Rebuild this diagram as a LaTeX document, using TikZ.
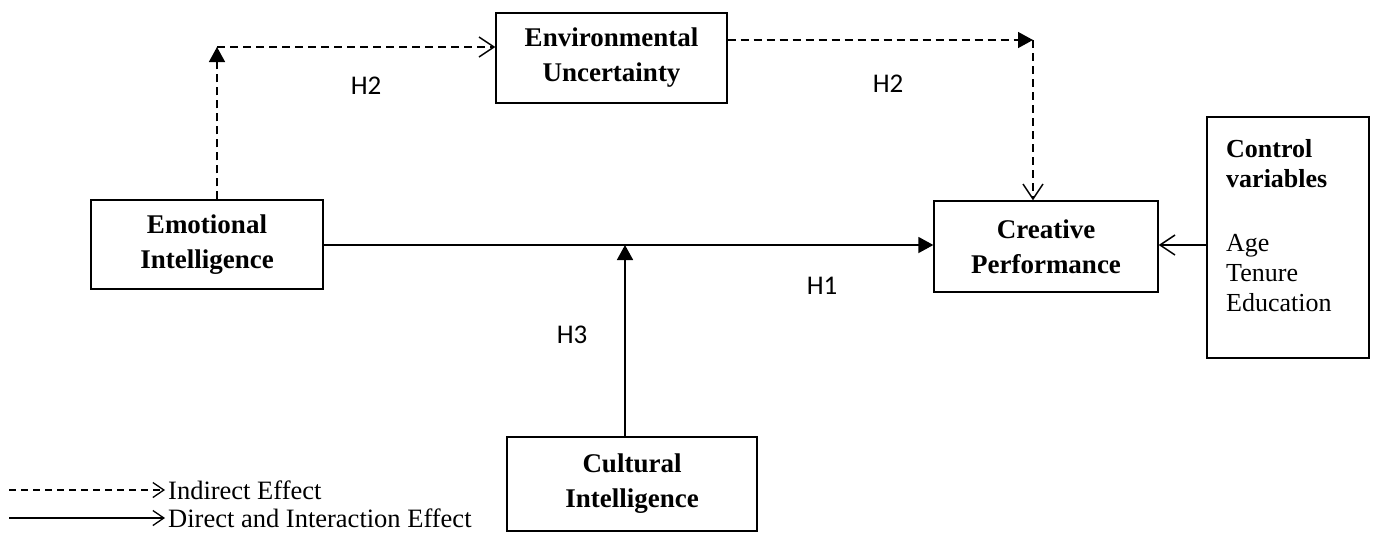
\documentclass[tikz,border=0pt]{standalone}
\usepackage{fontspec}
\setmainfont{Liberation Serif}
\newfontfamily\hfont{Carlito}
\usetikzlibrary{arrows.meta}
\tikzset{
  box/.style={draw, line width=1.3pt, inner sep=0pt, align=center,
    font=\bfseries\fontsize{27}{35}\selectfont},
  hlab/.style={font=\hfont\fontsize{27}{30}\selectfont, inner sep=0pt},
  conn/.style={line width=1.6pt},
  dsh/.style={line width=1.5pt, dash pattern=on 8pt off 5pt},
  tri/.style={-{Triangle[length=15pt,width=16pt]}},
  barb/.style={-{Straight Barb[length=15pt,width=20pt,line width=1.5pt]}},
  legtext/.style={font=\fontsize{26.5}{30}\selectfont, inner xsep=3pt, inner ysep=0pt, anchor=west}
}
\begin{document}
\begin{tikzpicture}[x=1pt,y=-1pt]
\useasboundingbox (0,0) rectangle (1374,558);
% boxes
\node[box, minimum width=232pt, minimum height=89pt] (ei) at (207,244.5) {Emotional\\Intelligence};
\node[box, minimum width=231pt, minimum height=90pt] (env) at (611.5,58) {Environmental\\Uncertainty};
\node[box, minimum width=224pt, minimum height=91pt] (cp) at (1046,246.5) {Creative\\Performance};
\node[box, minimum width=250pt, minimum height=94pt] (ci) at (632,484) {Cultural\\Intelligence};
\node[box, minimum width=162pt, minimum height=241pt] (ctrl) at (1288,237.5) {};
\node[anchor=north west, inner sep=0pt, align=left, font=\fontsize{26}{30}\selectfont] (ctrltext) at (1226,139)
  {\textbf{Control}\\\textbf{variables}\\[34pt]Age\\Tenure\\Education};
% coordinates
\coordinate (c1) at (217,47);
\coordinate (c2) at (1033,40);
\coordinate (mod) at (625,245);
% connectors
\draw[conn, tri] (ei.east |- mod) -- (mod -| cp.west);
\draw[conn, tri] (ci.north -| mod) -- (mod);
\draw[dsh, tri] (ei.north -| c1) -- (c1);
\draw[dsh, barb] (c1) -- (c1 -| env.west);
\draw[dsh, tri] (env.east |- c2) -- (c2);
\draw[dsh, barb] (c2) -- (c2 |- cp.north);
\draw[conn, barb] (ctrl.west |- mod) -- (cp.east |- mod);
% labels
\node[hlab] (h2a) at (366,86) {H2};
\node[hlab] (h2b) at (888,84) {H2};
\node[hlab] (h1) at (822,286) {H1};
\node[hlab] (h3) at (572,335) {H3};
% legend
\coordinate (l1s) at (9,490);
\coordinate (l2s) at (9,518);
\node[legtext] (l1) at (165,490) {Indirect Effect};
\node[legtext] (l2) at (165,518) {Direct and Interaction Effect};
\draw[line width=1.3pt, dash pattern=on 7pt off 5pt, -{Straight Barb[length=11pt,width=15pt,line width=1.3pt]}] (l1s) -- (l1.west);
\draw[line width=1.3pt, -{Straight Barb[length=11pt,width=15pt,line width=1.3pt]}] (l2s) -- (l2.west);
\end{tikzpicture}
\end{document}
